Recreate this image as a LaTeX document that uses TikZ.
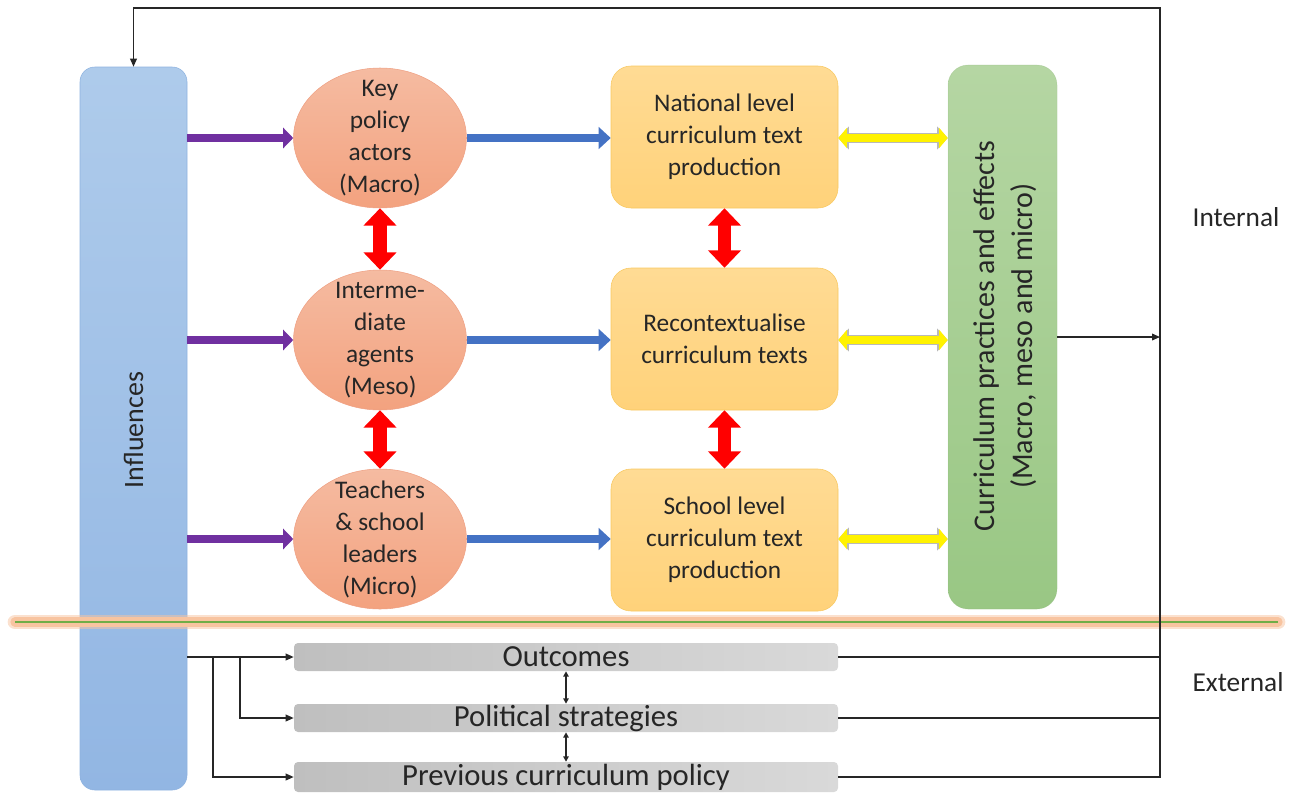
\documentclass[tikz,border=0pt]{standalone}
\usepackage{fontspec}
\setmainfont{Carlito}
\usetikzlibrary{shapes.geometric,arrows.meta}

\definecolor{inflTop}{HTML}{AECBEB}
\definecolor{inflBot}{HTML}{92B6E3}
\definecolor{inflLine}{HTML}{8FB3E0}
\definecolor{ellTop}{HTML}{F5BBA1}
\definecolor{ellBot}{HTML}{F3A27F}
\definecolor{ellLine}{HTML}{EFA184}
\definecolor{boxTop}{HTML}{FFDB94}
\definecolor{boxBot}{HTML}{FFD27A}
\definecolor{boxLine}{HTML}{F8C85F}
\definecolor{cpeTop}{HTML}{B5D6A3}
\definecolor{cpeBot}{HTML}{99C784}
\definecolor{grayL}{HTML}{BFBFBF}
\definecolor{grayR}{HTML}{D9D9D9}
\definecolor{purp}{HTML}{7030A0}
\definecolor{blu}{HTML}{4472C4}
\definecolor{sepGreen}{HTML}{70AD47}
\definecolor{glow}{HTML}{F8C4A0}

\begin{document}
\begin{tikzpicture}[x=0.75pt,y=-0.75pt,
					font=\fontsize{19}{24}\selectfont,
					text=black!85,
					infl node/.style={draw=inflLine,rounded corners=11pt,top color=inflTop,bottom color=inflBot,
						minimum width=80.25pt,minimum height=542.25pt,inner sep=0pt},
					actor node/.style={ellipse,draw=ellLine,top color=ellTop,bottom color=ellBot,
						minimum width=129.75pt,minimum height=105pt,inner xsep=0pt,inner ysep=-12pt,align=center},
					text node/.style={draw=boxLine,rounded corners=15pt,top color=boxTop,bottom color=boxBot,
						minimum width=170.25pt,minimum height=106.5pt,inner sep=0pt,align=center},
					cpe node/.style={draw=cpeBot!90!black,draw opacity=0.3,rounded corners=15pt,top color=cpeTop,bottom color=cpeBot,
						minimum width=81.75pt,minimum height=408pt,inner sep=0pt},
					ext node/.style={rounded corners=3pt,left color=grayL,right color=grayR,
						minimum width=408pt,minimum height=21pt,inner sep=0pt,font=\fontsize{23}{24}\selectfont},
					purple arrow/.style={draw=purp,line width=6pt,-{Triangle[length=7.5pt,width=15pt]}},
					blue arrow/.style={draw=blu,line width=6.5pt,-{Triangle[length=9pt,width=16pt]}},
					red arrow/.style={draw=red,line width=10pt,{Triangle[length=13pt,width=24pt]}-{Triangle[length=13pt,width=24pt]}},
					yellow arrow/.style={draw=yellow,line width=6pt,{Triangle[length=6.5pt,width=15pt]}-{Triangle[length=6.5pt,width=15pt]},
						preaction={draw=gray!55,line width=7.5pt,{Triangle[length=8pt,width=17pt]}-{Triangle[length=8pt,width=17pt]}}},
					thin arrow/.style={draw=black!85,line width=1.1pt,-{Triangle[length=6pt,width=5pt]}},
					thin line/.style={draw=black!85,line width=1.1pt}]

  \useasboundingbox (0,0) rectangle (1301,793);

  % left column
  \node[infl node] (infl) at (133.5,428.5) {};
  \node[rotate=90,font=\fontsize{21}{24}\selectfont] (infltxt) at (133.5,430) {Influences};

  % actors
  \node[actor node] (kpa) at (380,138) {Key\\policy\\actors\\(Macro)};
  \node[actor node] (ia) at (380,340) {Interme-\\diate\\agents\\(Meso)};
  \node[actor node] (tsl) at (380,539) {Teachers\\\& school\\leaders\\(Micro)};

  % texts
  \node[text node] (nat) at (724.5,137) {National level\\curriculum text\\production};
  \node[text node] (rec) at (724.5,339) {Recontextualise\\curriculum texts};
  \node[text node] (sch) at (724.5,540) {School level\\curriculum text\\production};

  % practices
  \node[cpe node] (cpe) at (1002.5,337) {};
  \node[rotate=90,align=center,font=\fontsize{22.5}{28}\selectfont] (cpetxt) at (1005,336) {Curriculum practices and effects\\(Macro, meso and micro)};

  % separator
  \draw[glow,line width=11pt,line cap=round,opacity=0.5] (15,622) -- (1278,622);
  \draw[glow,line width=7pt,line cap=round] (15,622) -- (1278,622);
  \draw[sepGreen,line width=1.5pt] (15,622) -- (1278,622);

  % external
  \node[ext node] (out) at (566,657) {Outcomes};
  \node[ext node] (pol) at (566,718) {Political strategies};
  \node[ext node,minimum height=22.5pt] (prev) at (566,777) {Previous curriculum policy};

  \node[font=\fontsize{20.5}{24}\selectfont] (int) at (1236,217) {Internal};
  \node[font=\fontsize{20.5}{24}\selectfont] (ext) at (1238,682) {External};

  \coordinate (rt) at (1160,8);
  \coordinate (b1) at (240,657);
  \coordinate (b2) at (213,657);

  % arrows
  \draw[purple arrow] (infl.east |- kpa) -- (kpa.west);
  \draw[purple arrow] (infl.east |- ia) -- (ia.west);
  \draw[purple arrow] (infl.east |- tsl) -- (tsl.west);

  \draw[blue arrow] (kpa.east) -- (kpa.east -| nat.west);
  \draw[blue arrow] (ia.east) -- (ia.east -| rec.west);
  \draw[blue arrow] (tsl.east) -- (tsl.east -| sch.west);

  \draw[red arrow] (kpa.south) -- (ia.north);
  \draw[red arrow] (ia.south) -- (tsl.north);
  \draw[red arrow] (nat.south) -- (rec.north);
  \draw[red arrow] (rec.south) -- (sch.north);

  \draw[yellow arrow] (nat.east |- kpa) -- (cpe.west |- kpa);
  \draw[yellow arrow] (rec.east |- ia) -- (cpe.west |- ia);
  \draw[yellow arrow] (sch.east |- tsl) -- (cpe.west |- tsl);

  \draw[thin arrow] (cpe.east) -- (cpe.east -| rt);
  \draw[thin arrow] (prev.east) -| (rt) -| (infl.north);
  \draw[thin line] (out.east) -- (out.east -| rt);
  \draw[thin line] (pol.east) -- (pol.east -| rt);

  \draw[thin arrow] (infl.east |- out) -- (out.west);
  \draw[thin arrow] (b1) |- (pol.west);
  \draw[thin arrow] (b2) |- (prev.west);

  \draw[thin line,{Triangle[length=4pt,width=4pt]}-{Triangle[length=4pt,width=4pt]}] (out.south) -- (pol.north);
  \draw[thin line,{Triangle[length=4pt,width=4pt]}-{Triangle[length=4pt,width=4pt]}] (pol.south) -- (prev.north);
\end{tikzpicture}
\end{document}
